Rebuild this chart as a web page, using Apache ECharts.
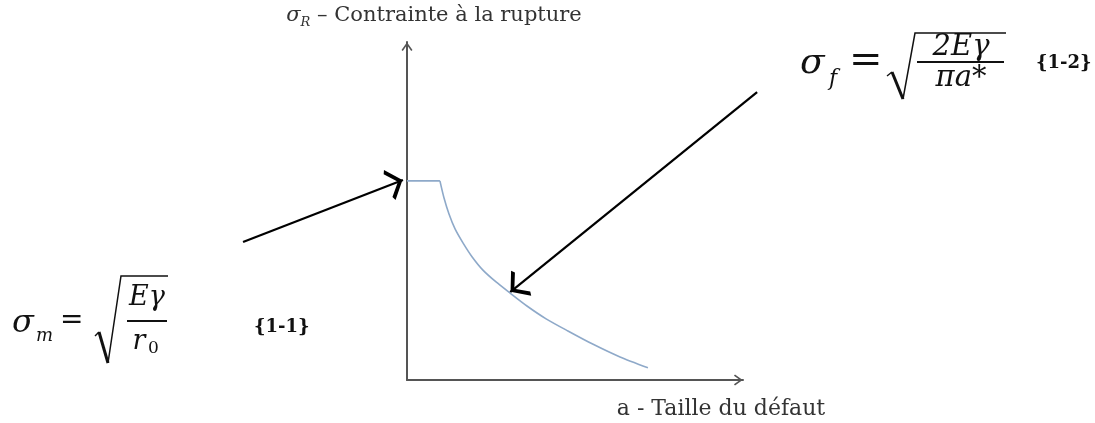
<!DOCTYPE html>
<html>
<head>
<meta charset="utf-8">
<script src="https://cdn.jsdelivr.net/npm/echarts@6/dist/echarts.min.js"></script>
<style>
  html, body { margin: 0; background: #fff; }
  #chart { width: 1095px; height: 423px; }
</style>
</head>
<body>
<div id="chart"></div>
<script>
// sigma_R(a) : palier puis décroissance
const plateauA = [0, 9.8];
const plateauS = [58.9, 58.9];
const decayA = [9.8, 11.0, 12.5, 14.3, 16.7, 19.4, 22.6, 26.5, 30.7, 35.7, 41.4, 47.9, 55.1, 63.4, 71.7];
const decayS = [58.9, 53.9, 49.1, 44.7, 40.5, 36.4, 32.5, 29.0, 25.7, 21.9, 18.1, 14.5, 10.7, 6.8, 3.6];

// flèches d'annotation, dans le repère des données
const arrowM = [[-48.8, 40.8], [-1.2, 59.2]];
const arrowF = [[104.2, 85.2], [30.7, 26.0]];

const xName = 'a - Taille du défaut';
const yName = '{i|σ}{sub|R}{t| – Contrainte à la rupture}';

const SERIF = 'DejaVu Serif';
// pointe ouverte : la pointe est au centre de la boîte, la moitié haute est vide
const openArrow = 'path://M10,0 L10.01,0 L10,0.01 Z M10,17 L20,31 L17.6,32.9 L10,22 L2.4,32.9 L0,31 Z';

function zip(a, b) { return a.map((v, i) => [v, b[i]]); }

function txt(x, y, text, size, opts = {}) {
  return {
    type: 'text', x, y, silent: true,
    style: Object.assign({
      text, fontSize: size, fontFamily: SERIF, fill: '#111',
      fontStyle: 'normal', align: 'left', verticalAlign: 'middle'
    }, opts)
  };
}
function seg(points, w) {
  return { type: 'polyline', silent: true, shape: { points }, style: { stroke: '#111', lineWidth: w, fill: null } };
}

const chart = echarts.init(document.getElementById('chart'));

const axisLine = {
  show: true, symbol: ['none', openArrow], symbolSize: [11, 22],
  lineStyle: { color: '#555', width: 2 }
};

const option = {
  animation: false,
  backgroundColor: '#fff',
  grid: { left: 407, top: 42, right: 352, bottom: 43 },
  xAxis: {
    type: 'value', min: 0, max: 100,
    name: xName, nameLocation: 'end', nameGap: -22,
    nameTextStyle: { fontFamily: SERIF, fontSize: 22, color: '#333', align: 'center', verticalAlign: 'top', padding: [18, 0, 0, 0] },
    axisLine,
    axisTick: { show: false }, axisLabel: { show: false }, splitLine: { show: false }
  },
  yAxis: {
    type: 'value', min: 0, max: 100,
    name: yName, nameLocation: 'end', nameGap: 13,
    nameTextStyle: {
      fontFamily: SERIF, fontSize: 21, color: '#333', align: 'center', verticalAlign: 'bottom', padding: [0, 0, 0, 54],
      rich: {
        i: { fontFamily: SERIF, fontStyle: 'italic', fontSize: 21, color: '#333', verticalAlign: 'bottom', padding: [0, 0, 3, 0] },
        sub: { fontFamily: SERIF, fontStyle: 'italic', fontSize: 13, color: '#333', verticalAlign: 'bottom' },
        t: { fontFamily: SERIF, fontSize: 21, color: '#333', verticalAlign: 'bottom', padding: [0, 0, 3, 0] }
      }
    },
    axisLine,
    axisTick: { show: false }, axisLabel: { show: false }, splitLine: { show: false }
  },
  series: [
    {
      type: 'line', data: zip(plateauA, plateauS), showSymbol: false, clip: false,
      lineStyle: { color: '#8ea9c9', width: 1.6 }
    },
    {
      type: 'line', data: zip(decayA, decayS), showSymbol: false, clip: false,
      smooth: 0.25,
      lineStyle: { color: '#8ea9c9', width: 1.6 }
    },
    {
      type: 'lines', coordinateSystem: 'cartesian2d', clip: false, silent: true,
      symbol: ['none', openArrow], symbolSize: [16, 32],
      lineStyle: { color: '#000', width: 2.2, opacity: 1 },
      data: [{ coords: arrowM }, { coords: arrowF }]
    }
  ],
  graphic: [
    // sigma_m = sqrt(E gamma / r0)   {1-1}
    txt(12, 324, 'σ', 32, { fontStyle: 'italic' }),
    txt(36, 336, 'm', 18, { fontStyle: 'italic' }),
    txt(60, 321, '=', 28),
    seg([[95, 336], [99, 332]], 1.5),
    seg([[99, 332], [108, 363]], 3),
    seg([[108, 363], [121, 276], [168, 276]], 1.5),
    txt(147, 298, 'Eγ', 27, { fontStyle: 'italic', align: 'center' }),
    seg([[127, 321], [167, 321]], 2),
    txt(139, 342, 'r', 27, { fontStyle: 'italic', align: 'center' }),
    txt(148, 349, '0', 17),
    txt(254, 327, '{1-1}', 18, { fontWeight: 'bold' }),
    // sigma_f = sqrt(2 E gamma / pi a*)   {1-2}
    txt(800, 64, 'σ', 36, { fontStyle: 'italic' }),
    txt(829, 79, 'f', 22, { fontStyle: 'italic' }),
    txt(849, 62, '=', 40),
    seg([[887, 76], [892, 72]], 1.5),
    seg([[892, 72], [903, 99]], 3),
    seg([[903, 99], [915, 33], [1006, 33]], 1.5),
    txt(961, 47, '2Eγ', 29, { fontStyle: 'italic', align: 'center' }),
    seg([[917, 62], [1004, 62]], 2),
    txt(961, 78, 'πa*', 29, { fontStyle: 'italic', align: 'center' }),
    txt(1036, 63, '{1-2}', 18, { fontWeight: 'bold' })
  ]
};

chart.setOption(option);
</script>
</body>
</html>
